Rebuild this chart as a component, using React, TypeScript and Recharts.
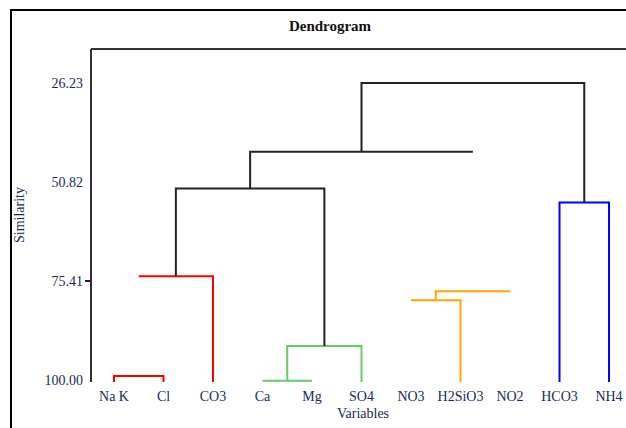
import React from "react";
import { ComposedChart, Line, XAxis, YAxis, ReferenceLine, Label } from "recharts";

// Leaves (variables) in dendrogram order
const variables = ["Na K", "Cl", "CO3", "Ca", "Mg", "SO4", "NO3", "H2SiO3", "NO2", "HCO3", "NH4"];
const leafIndex = variables.map((_, i) => i);

// Similarity axis tick labels
const similarityTicks = [26.23, 50.82, 75.41, 100.0];
const simMin = 17.8;
const simMax = 100.5;

// Links as polylines: [leaf position, similarity]
const redLinks: number[][][] = [
  [[0, 100.5], [0, 99.0], [1, 99.0], [1, 100.5]],
  [[0.5, 74.25], [2, 74.25], [2, 100.5]],
];
const greenLinks: number[][][] = [
  [[3, 100.2], [4, 100.2]],
  [[3.5, 100.2], [3.5, 91.58], [5, 91.58], [5, 100.5]],
];
const orangeLinks: number[][][] = [
  [[6.5, 80.2], [6.5, 77.97], [8, 77.97]],
  [[6, 80.2], [7, 80.2], [7, 100.5]],
];
const blueLinks: number[][][] = [
  [[9, 100.5], [9, 55.94], [10, 55.94], [10, 100.5]],
];
const blackLinks: number[][][] = [
  [[1.25, 74.25], [1.25, 52.47], [4.25, 52.47], [4.25, 91.58]],
  [[2.75, 52.47], [2.75, 43.31], [7.25, 43.31]],
  [[5, 43.31], [5, 26.23], [9.5, 26.23], [9.5, 55.94]],
];

const groups = [
  { links: redLinks, color: "#ff0000" },
  { links: greenLinks, color: "#66cc66" },
  { links: orangeLinks, color: "#ffa500" },
  { links: blueLinks, color: "#0000ff" },
  { links: blackLinks, color: "#222222" },
];

const series = groups.flatMap((g, gi) =>
  g.links.map((pts, li) => ({
    key: `l${gi}-${li}`,
    color: g.color,
    data: pts.map(([x, y]) => ({ x, y })),
  }))
);

const FONT = "'Liberation Serif', 'DejaVu Serif', serif";
const TEXT = "#1a2a5a";

const YTick = (props: any) => {
  const { x, y, payload } = props;
  return (
    <g>
      <text x={x} y={y} dy={5} textAnchor="end" fontFamily={FONT} fontSize={14} fill={TEXT}>
        {payload.value.toFixed(2)}
      </text>
      {payload.value === 75.41 ? (
        <line x1={x + 2} x2={x + 8} y1={y} y2={y} stroke="#222" strokeWidth={2} />
      ) : null}
    </g>
  );
};

const XTick = (props: any) => {
  const { x, y, payload } = props;
  return (
    <text x={x} y={y} dy={11} textAnchor="middle" fontFamily={FONT} fontSize={14} fill={TEXT}>
      {variables[payload.value]}
    </text>
  );
};

export default function App() {
  return (
    <div style={{ position: "fixed", left: 0, top: 0, width: 626, height: 428, overflow: "hidden", background: "#fff" }}>
      <div
        style={{
          position: "absolute",
          left: 10,
          top: 9,
          width: 700,
          height: 500,
          border: "2px solid #000",
        }}
      />
      <div
        style={{
          position: "absolute",
          left: 0,
          top: 18,
          width: 660,
          textAlign: "center",
          fontFamily: FONT,
          fontWeight: "bold",
          fontSize: 15,
          color: "#111",
        }}
      >
        Dendrogram
      </div>
      <div style={{ position: "absolute", left: 0, top: 0 }}>
        <ComposedChart width={700} height={460} margin={{ top: 49, right: 60, bottom: 48, left: 11 }}>
          <XAxis
            dataKey="x"
            type="number"
            domain={[-0.4646, 10.626]}
            allowDataOverflow
            ticks={leafIndex}
            interval={0}
            tick={<XTick />}
            axisLine={false}
            tickLine={false}
            height={30}
          >
            <Label
              content={() => (
                <text x={363} y={418} textAnchor="middle" fontFamily={FONT} fontSize={14} fill={TEXT}>
                  Variables
                </text>
              )}
            />
          </XAxis>
          <YAxis
            type="number"
            reversed
            domain={[simMin, simMax]}
            allowDataOverflow
            ticks={similarityTicks}
            interval={0}
            tick={<YTick />}
            tickLine={false}
            axisLine={{ stroke: "#333", strokeWidth: 2 }}
            width={80}
          >
            <Label
              content={() => (
                <text
                  x={24}
                  y={215}
                  transform="rotate(-90, 24, 215)"
                  textAnchor="middle"
                  fontFamily={FONT}
                  fontSize={14}
                  fill={TEXT}
                >
                  Similarity
                </text>
              )}
            />
          </YAxis>
          <ReferenceLine y={simMin} stroke="#333" strokeWidth={2} ifOverflow="extendDomain" />
          {series.map((s) => (
            <Line
              key={s.key}
              data={s.data}
              dataKey="y"
              type="linear"
              stroke={s.color}
              strokeWidth={2}
              dot={false}
              activeDot={false}
              isAnimationActive={false}
              legendType="none"
            />
          ))}
        </ComposedChart>
      </div>
    </div>
  );
}
